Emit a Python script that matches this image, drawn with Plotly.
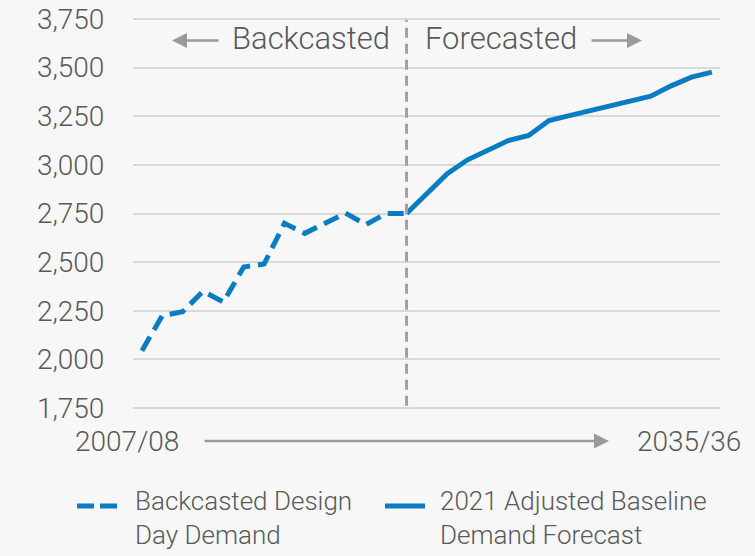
import plotly.graph_objects as go

# ---- data ----
years = ["2007/08", "2008/09", "2009/10", "2010/11", "2011/12", "2012/13", "2013/14",
         "2014/15", "2015/16", "2016/17", "2017/18", "2018/19", "2019/20", "2020/21",
         "2021/22", "2022/23", "2023/24", "2024/25", "2025/26", "2026/27", "2027/28",
         "2028/29", "2029/30", "2030/31", "2031/32", "2032/33", "2033/34", "2034/35",
         "2035/36"]
backcast_years = years[:14]
backcast_values = [2045, 2225, 2245, 2350, 2295, 2475, 2490, 2700, 2648, 2700,
                   2752, 2693, 2750, 2750]
forecast_years = years[13:]
forecast_values = [2750, 2853, 2954, 3026, 3077, 3125, 3151, 3228, 3253, 3278,
                   3304, 3329, 3353, 3406, 3451, 3477]
y_ticks = [1750, 2000, 2250, 2500, 2750, 3000, 3250, 3500, 3750]
series_names = ["Backcasted Design<br>Day Demand", "2021 Adjusted Baseline<br>Demand Forecast"]
split_year = "2020/21"

BLUE = "#0a7cc1"
GREY_TXT = "#595959"
GREY_ARROW = "#9a9a9a"
FONT = "Roboto, Liberation Sans, Arial, sans-serif"
WEIGHT = 300

W, H = 755, 556
ML, MR, MT, MB = 133, 35, 16.55, 146.1
PW, PH = W - ML - MR, H - MT - MB


def px(xp):
    return (xp - ML) / PW


def py(yp):
    return (H - MB - yp) / PH


fig = go.Figure()
fig.add_trace(go.Scatter(x=backcast_years, y=backcast_values, mode="lines",
                         line=dict(color=BLUE, width=5, dash="16px,8px"),
                         name=series_names[0], showlegend=False))
fig.add_trace(go.Scatter(x=forecast_years, y=forecast_values, mode="lines",
                         line=dict(color=BLUE, width=5),
                         name=series_names[1], showlegend=False))

split_idx = years.index(split_year)
fig.add_shape(type="line", xref="x", yref="y", x0=split_idx, x1=split_idx,
              y0=1762, y1=3745, line=dict(color="#a0a0a0", width=3, dash="10px,6px"),
              layer="above")

ann = []


def text_ann(text, xp, yp, size, xanchor="center"):
    ann.append(dict(text=text, xref="paper", yref="paper", x=px(xp), y=py(yp),
                    xanchor=xanchor, yanchor="middle", align="left", showarrow=False,
                    font=dict(size=size, color=GREY_TXT, family=FONT, weight=WEIGHT)))


def arrow_ann(head_x, tail_x, yp):
    ann.append(dict(text="", xref="paper", yref="paper", x=px(head_x), y=py(yp),
                    ax=tail_x - head_x, ay=0, showarrow=True, arrowhead=2,
                    arrowsize=1.2, arrowwidth=2.5, arrowcolor=GREY_ARROW))


text_ann("Backcasted", 311, 38, 31)
text_ann("Forecasted", 501, 38, 31)
arrow_ann(172, 220, 40)
arrow_ann(642, 590, 40)
text_ann(years[0], 127, 441, 28)
text_ann(years[-1], 689, 441, 28)
arrow_ann(609, 203, 441)

text_ann(series_names[0], 133, 518, 26, xanchor="left")
text_ann(series_names[1], 438, 518, 26, xanchor="left")

fig.add_shape(type="line", xref="paper", yref="paper", x0=px(77), x1=px(118),
              y0=py(506), y1=py(506), line=dict(color=BLUE, width=5, dash="17px,6px"))
fig.add_shape(type="line", xref="paper", yref="paper", x0=px(385), x1=px(425),
              y0=py(506), y1=py(506), line=dict(color=BLUE, width=5))

fig.update_layout(
    width=W, height=H,
    margin=dict(l=ML, r=MR, t=MT, b=MB, pad=0, autoexpand=False),
    paper_bgcolor="#f7f7f7", plot_bgcolor="#f7f7f7",
    font=dict(family=FONT, color=GREY_TXT, weight=WEIGHT),
    annotations=ann,
    showlegend=False,
)
fig.update_xaxes(type="category", categoryorder="array", categoryarray=years,
                 range=[-0.44, 28.4], showticklabels=False, showgrid=False,
                 zeroline=False, showline=False, ticks="", automargin=False)
fig.update_yaxes(range=[1740, 3760], tickvals=y_ticks, tickformat=",",
                 showgrid=True, gridcolor="#d9d9d9", gridwidth=1.5,
                 zeroline=False, showline=False, ticks="outside", ticklen=22,
                 tickcolor="rgba(0,0,0,0)", automargin=False,
                 tickfont=dict(size=28, color=GREY_TXT, family=FONT, weight=WEIGHT))

fig.write_html("out.html", config={"responsive": False, "displayModeBar": False},
               post_script="document.body.style.margin='0';")
